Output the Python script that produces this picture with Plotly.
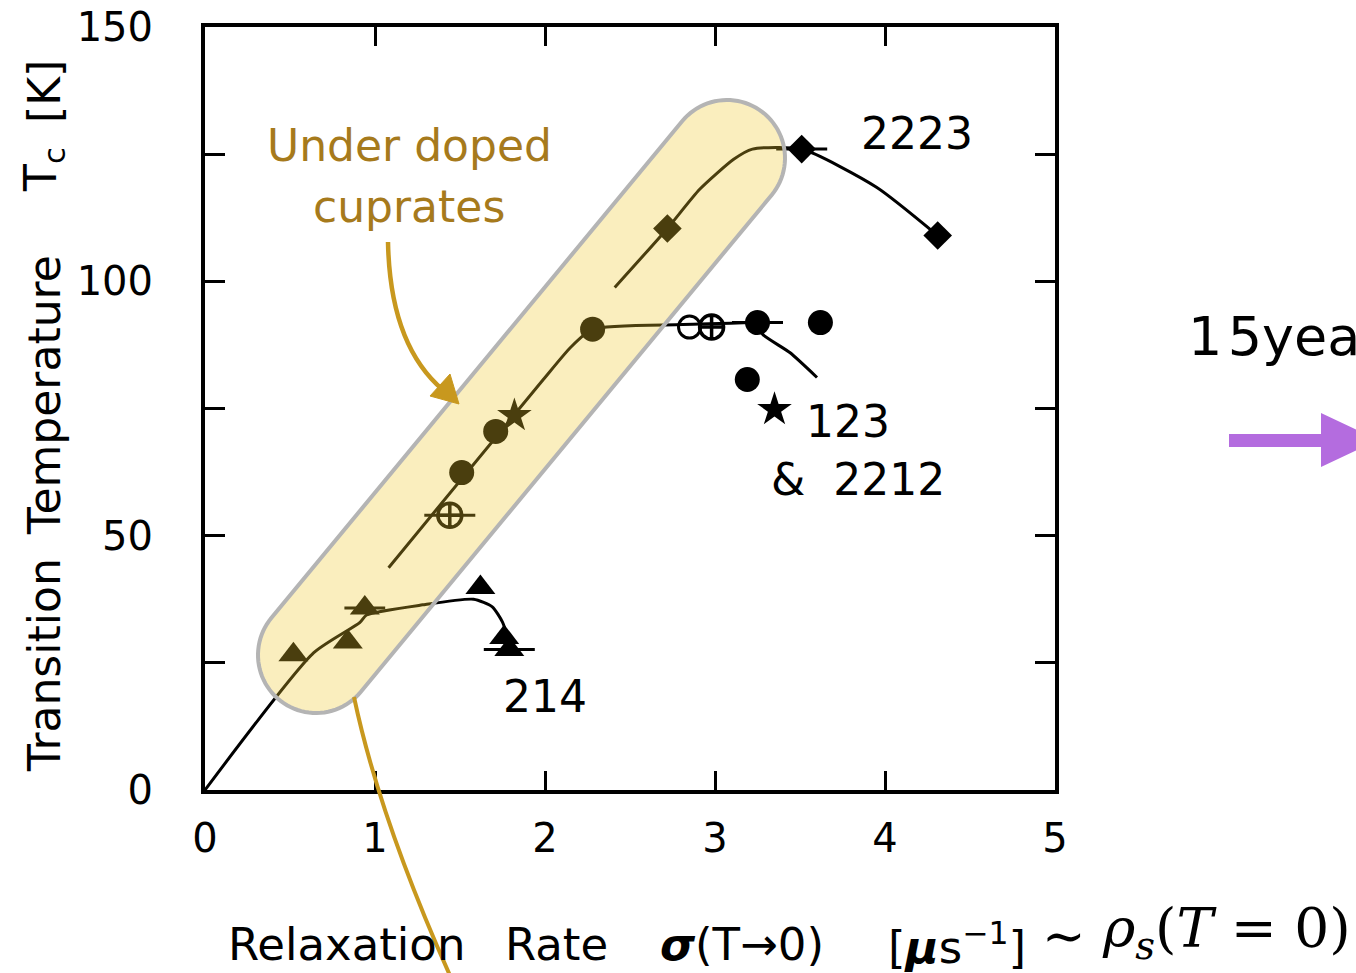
import numpy as np
import plotly.graph_objects as go

# ---------------- data ----------------
# 2223 family (diamonds)
dia_x = [2.72, 3.51, 4.31]
dia_y = [110.4, 126.0, 109.0]
dia_ex = [0.0, 0.15, 0.0]
line2223_x = [2.41, 2.72, 2.91, 3.11, 3.22, 3.51, 3.95, 4.31]
line2223_y = [98.8, 110.4, 118.1, 124.0, 126.0, 126.0, 118.5, 109.0]

# 123 & 2212 family (circles, stars)
circ_x = [1.51, 1.71, 2.28, 3.25, 3.62, 3.19]
circ_y = [62.4, 70.5, 90.6, 91.9, 91.9, 80.7]
circ_ex = [0.0, 0.0, 0.0, 0.15, 0.0, 0.0]
opencirc_x = [2.85]
opencirc_y = [91.0]
crosscirc_x = [1.44, 2.98]
crosscirc_y = [54.0, 91.0]
crosscirc_ex = [0.15, 0.0]
star_x = [1.82, 3.35]
star_y = [73.6, 74.8]
line123_x = [1.08, 1.99, 2.15, 2.28, 2.81, 3.25]
line123_y = [43.7, 80.7, 87.0, 90.6, 91.5, 91.9]
drop123_x = [3.25, 3.28, 3.44, 3.60]
drop123_y = [91.9, 89.6, 86.0, 81.1]

# 214 family (triangles)
tri_x = [0.52, 0.84, 0.94, 1.62, 1.76, 1.79]
tri_y = [26.6, 29.1, 35.8, 39.8, 30.0, 27.6]
tri_ex = [0.0, 0.0, 0.12, 0.0, 0.0, 0.15]
line214_x = [0.0, 0.64, 0.91, 0.95, 1.28, 1.58, 1.69, 1.75, 1.78]
line214_y = [0.0, 27.0, 32.9, 34.4, 36.4, 37.5, 36.0, 33.0, 30.0]

# axes
x_ticks = [0, 1, 2, 3, 4, 5]
x_ticktext = ["0", "1", "2", "3", "4", "5"]
y_ticks = [0, 25, 50, 75, 100, 125, 150]
y_ticktext = ["0", " ", "50", " ", "100", " ", "150"]

# ---------------- layout helpers (pixel -> paper) ----------------
W, H = 1356, 973
L, R, T, B = 205, 301, 27, 183
PW, PH = W - L - R, H - T - B


def px(xp):
    return (xp - L) / PW


def py(yp):
    return (H - B - yp) / PH


FONT = "DejaVu Sans"
BLACK = "black"

fig = go.Figure()

lw = 3
for lx, ly in [(line2223_x, line2223_y), (line123_x, line123_y),
               (drop123_x, drop123_y), (line214_x, line214_y)]:
    fig.add_trace(go.Scatter(x=lx, y=ly, mode="lines",
                             line=dict(color=BLACK, width=lw, shape="spline", smoothing=0.6),
                             hoverinfo="skip", showlegend=False))

err = dict(type="data", symmetric=True, color=BLACK, thickness=3, width=0)

fig.add_trace(go.Scatter(x=dia_x, y=dia_y, mode="markers",
                         marker=dict(symbol="diamond", size=22, color=BLACK),
                         error_x=dict(array=dia_ex, **err), showlegend=False))
fig.add_trace(go.Scatter(x=circ_x, y=circ_y, mode="markers",
                         marker=dict(symbol="circle", size=25, color=BLACK),
                         error_x=dict(array=circ_ex, **err), showlegend=False))
fig.add_trace(go.Scatter(x=opencirc_x, y=opencirc_y, mode="markers",
                         marker=dict(symbol="circle-open", size=22, color=BLACK,
                                     line=dict(width=3, color=BLACK)),
                         showlegend=False))
fig.add_trace(go.Scatter(x=crosscirc_x, y=crosscirc_y, mode="markers",
                         marker=dict(symbol="circle-cross-open", size=24, color=BLACK,
                                     line=dict(width=3.5, color=BLACK)),
                         error_x=dict(array=crosscirc_ex, **err), showlegend=False))
fig.add_trace(go.Scatter(x=star_x, y=star_y, mode="markers",
                         marker=dict(symbol="star", size=26, color=BLACK),
                         showlegend=False))
fig.add_trace(go.Scatter(x=tri_x, y=tri_y, mode="markers",
                         marker=dict(symbol="triangle-up", size=26, color=BLACK),
                         error_x=dict(array=tri_ex, **err), showlegend=False))

# ---------------- shapes ----------------
shapes = []
# under-doped band (stadium)
c1 = np.array([316.0, 655.0])
c2 = np.array([727.0, 158.0])
rr = 58.0
d = c2 - c1
th = np.arctan2(d[1], d[0])
a2 = np.linspace(th - np.pi / 2, th + np.pi / 2, 48)
a1 = np.linspace(th + np.pi / 2, th + 3 * np.pi / 2, 48)
pts = [c2 + rr * np.array([np.cos(a), np.sin(a)]) for a in a2] + \
      [c1 + rr * np.array([np.cos(a), np.sin(a)]) for a in a1]
band_path = "M " + " L ".join(f"{px(p[0]):.5f},{py(p[1]):.5f}" for p in pts) + " Z"
shapes.append(dict(type="path", xref="paper", yref="paper", path=band_path,
                   fillcolor="rgba(239,200,45,0.31)",
                   line=dict(color="#B4B4B4", width=4), layer="above"))

GOLD = "#C8981E"
# curved arrow from the label
shapes.append(dict(type="path", xref="paper", yref="paper",
                   path=f"M {px(388)},{py(242)} Q {px(390)},{py(345)} {px(443)},{py(390)}",
                   line=dict(color=GOLD, width=4.5), layer="above"))
shapes.append(dict(type="path", xref="paper", yref="paper",
                   path=f"M {px(459)},{py(404)} L {px(430)},{py(396)} L {px(450)},{py(374)} Z",
                   fillcolor=GOLD, line=dict(color=GOLD, width=1), layer="above"))
# line leaving the band downward
shapes.append(dict(type="path", xref="paper", yref="paper",
                   path=f"M {px(354)},{py(697)} Q {px(380)},{py(820)} {px(452)},{py(980)}",
                   line=dict(color=GOLD, width=4), layer="above"))

# purple arrow at right
PURPLE = "#B46CDF"
shapes.append(dict(type="path", xref="paper", yref="paper",
                   path=(f"M {px(1229)},{py(434)} L {px(1321)},{py(434)} L {px(1321)},{py(413)} "
                         f"L {px(1378)},{py(440)} L {px(1321)},{py(467)} L {px(1321)},{py(447)} "
                         f"L {px(1229)},{py(447)} Z"),
                   fillcolor=PURPLE, line=dict(color=PURPLE, width=0), layer="above"))

# ---------------- annotations ----------------
ann = []


def text(x, y, s, size=44, color=BLACK, xanchor="center", family=FONT, ref="data", angle=0):
    d_ = dict(x=x, y=y, text=s, showarrow=False, xanchor=xanchor, yanchor="middle",
              font=dict(family=family, size=size, color=color), textangle=angle)
    if ref == "data":
        d_.update(xref="x", yref="y")
    else:
        d_.update(xref="paper", yref="paper")
    ann.append(d_)


text(4.19, 129, "2223", size=44)
text(3.78, 72.4, "123", size=44)
text(3.84, 61.0, "&amp;  2212", size=44)
text(2.0, 18.3, "214", size=44)

LBL = "#A67A1C"
text(px(409), py(145), "Under doped", size=44, color=LBL, ref="paper")
text(px(409), py(206), "cuprates", size=44, color=LBL, ref="paper")

text(px(1186), py(336), "1&#8202;5years", size=54, ref="paper", xanchor="left")

# y-axis title (rotated pieces)
text(px(44), py(665), "Transition", size=44, ref="paper", angle=-90)
text(px(44), py(395), "Temperature", size=44, ref="paper", angle=-90)
text(px(44), py(170), "T<sub>c</sub>", size=44, ref="paper", angle=-90)
text(px(44), py(92), "[K]", size=44, ref="paper", angle=-90)

# x-axis title pieces
text(px(226), py(945), "Relaxation", size=45, ref="paper", xanchor="left")
text(px(503), py(945), "Rate", size=45, ref="paper", xanchor="left")
text(px(658), py(945), "<b><i>σ</i></b>(T→0)", size=45, ref="paper", xanchor="left")
text(px(886), py(945), "[<b><i>μ</i></b>s<sup>−1</sup>]", size=45, ref="paper", xanchor="left")
text(px(1040), py(936), "∼", size=52, ref="paper", xanchor="left", family="DejaVu Serif")
text(px(1353), py(932),
     "<i>ρ<sub>s</sub></i>(<i>T</i> = 0)",
     size=55, ref="paper", xanchor="right", family="DejaVu Serif")

fig.update_layout(
    width=W, height=H,
    margin=dict(l=L, r=R, t=T, b=B, pad=0),
    paper_bgcolor="white", plot_bgcolor="white",
    shapes=shapes, annotations=ann,
    showlegend=False,
    xaxis=dict(range=[0, 5], tickvals=x_ticks, ticktext=x_ticktext,
               ticks="inside", ticklen=19, tickwidth=3, tickcolor=BLACK,
               showline=True, linewidth=4, linecolor=BLACK, mirror="ticks",
               showgrid=False, zeroline=False, ticklabelstandoff=10, automargin=False,
               tickfont=dict(family=FONT, size=40, color=BLACK)),
    yaxis=dict(range=[0, 150], tickvals=y_ticks, ticktext=y_ticktext,
               ticks="inside", ticklen=20, tickwidth=3, tickcolor=BLACK,
               showline=True, linewidth=4, linecolor=BLACK, mirror="ticks",
               showgrid=False, zeroline=False, ticklabelstandoff=40, automargin=False,
               tickfont=dict(family=FONT, size=40, color=BLACK)),
)

fig.write_html("out.html")
